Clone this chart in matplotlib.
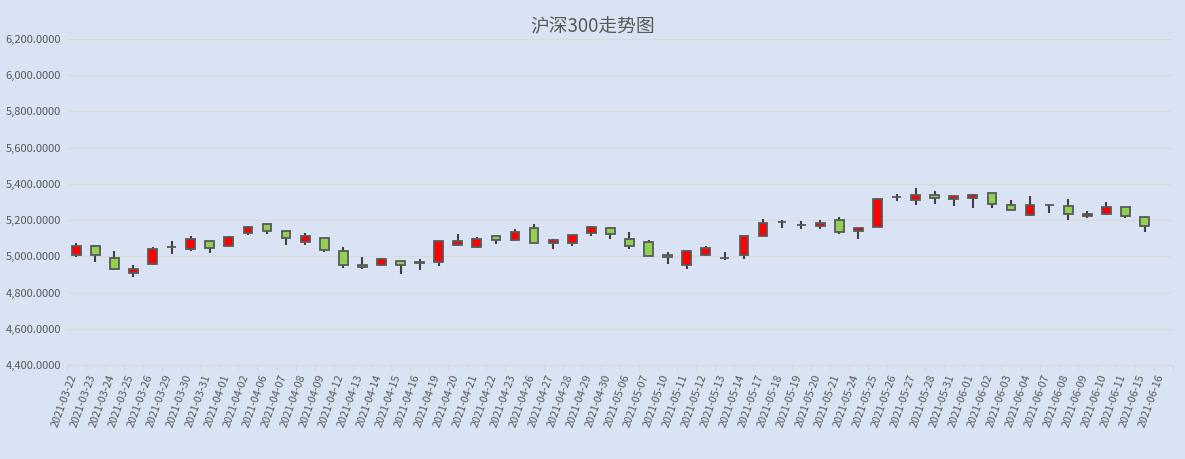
import matplotlib.pyplot as plt, numpy as np
from matplotlib.ticker import FuncFormatter, FixedLocator

plt.rcParams['font.family'] = ['Noto Sans CJK SC', 'DejaVu Sans']

# dados
dates = ['2021-03-22', '2021-03-23', '2021-03-24', '2021-03-25', '2021-03-26', '2021-03-29',
         '2021-03-30', '2021-03-31', '2021-04-01', '2021-04-02', '2021-04-06', '2021-04-07',
         '2021-04-08', '2021-04-09', '2021-04-12', '2021-04-13', '2021-04-14', '2021-04-15',
         '2021-04-16', '2021-04-19', '2021-04-20', '2021-04-21', '2021-04-22', '2021-04-23',
         '2021-04-26', '2021-04-27', '2021-04-28', '2021-04-29', '2021-04-30', '2021-05-06',
         '2021-05-07', '2021-05-10', '2021-05-11', '2021-05-12', '2021-05-13', '2021-05-14',
         '2021-05-17', '2021-05-18', '2021-05-19', '2021-05-20', '2021-05-21', '2021-05-24',
         '2021-05-25', '2021-05-26', '2021-05-27', '2021-05-28', '2021-05-31', '2021-06-01',
         '2021-06-02', '2021-06-03', '2021-06-04', '2021-06-07', '2021-06-08', '2021-06-09',
         '2021-06-10', '2021-06-11', '2021-06-15', '2021-06-16']
nan = np.nan
opens = [5009, 5059, 4989, 4906, 4955, 5049, 5041, 5086, 5058, 5128,
         5178, 5141, 5079, 5103, 5027, 4951, 4951, 4973, 4965, 4968,
         5063, 5054, 5113, 5090, 5157, 5076, 5076, 5130, 5157, 5098,
         5077, 5005, 4954, 5005, 4990, 5009, 5115, 5187, 5171, 5170,
         5203, 5142, 5162, 5325, 5311, 5339, 5317, 5322, 5350, 5283,
         5228, 5283, 5278, 5222, 5233, 5272, 5217, nan]
closes = [5059, 5009, 4930, 4930, 5038, 5051, 5097, 5047, 5108, 5162,
          5139, 5101, 5113, 5036, 4950, 4939, 4984, 4951, 4967, 5086,
          5086, 5097, 5090, 5135, 5076, 5092, 5119, 5162, 5124, 5059,
          5000, 4994, 5027, 5044, 4992, 5110, 5186, 5189, 5173, 5186,
          5137, 5159, 5318, 5327, 5339, 5322, 5333, 5339, 5289, 5256,
          5283, 5281, 5233, 5233, 5272, 5222, 5167, nan]
highs = [5072, 5065, 5027, 4951, 5054, 5086, 5110, 5087, 5115, 5169,
         5179, 5141, 5130, 5103, 5049, 4995, 4989, 4973, 4984, 5087,
         5121, 5108, 5119, 5151, 5178, 5097, 5119, 5169, 5162, 5136,
         5091, 5022, 5035, 5055, 5022, 5115, 5208, 5203, 5195, 5201,
         5219, 5159, 5323, 5345, 5378, 5361, 5333, 5344, 5350, 5311,
         5333, 5283, 5317, 5250, 5300, 5272, 5222, nan]
lows = [4998, 4968, 4924, 4885, 4953, 5011, 5031, 5016, 5058, 5117,
        5122, 5063, 5063, 5022, 4933, 4928, 4946, 4903, 4924, 4946,
        5058, 5047, 5068, 5085, 5076, 5043, 5058, 5113, 5097, 5038,
        5000, 4956, 4929, 5000, 4978, 4984, 5115, 5159, 5153, 5153,
        5126, 5093, 5162, 5306, 5281, 5289, 5278, 5267, 5267, 5256,
        5222, 5239, 5200, 5211, 5228, 5211, 5133, nan]
y_ticks = [4400, 4600, 4800, 5000, 5200, 5400, 5600, 5800, 6000, 6200]

bg = '#DAE3F3'
grid_c = '#D9D9D9'
txt_c = '#595959'

o = np.array(opens, float); c = np.array(closes, float)
h = np.array(highs, float); l = np.array(lows, float)
x = np.arange(len(dates))
ok = ~np.isnan(o)
up = ok & (c >= o)
down = ok & (c < o)

fig = plt.figure(figsize=(11.85, 4.59), dpi=100, facecolor=bg)
ax = fig.add_axes([0.0563, 0.2048, 0.9337, 0.7102], facecolor=bg)

# pavios
ax.vlines(x[ok], l[ok], h[ok], color='#404040', linewidth=1.5, zorder=2)

# corpos
w = 0.46
body_b = np.minimum(o, c)
body_h = np.maximum(np.abs(c - o), 1.0)
ax.bar(x[up], body_h[up], w, bottom=body_b[up], color='#FF0000',
       edgecolor='#595959', linewidth=1.3, zorder=3)
ax.bar(x[down], body_h[down], w, bottom=body_b[down], color='#92D050',
       edgecolor='#595959', linewidth=1.3, zorder=3)

ax.set_xlim(-0.5, len(dates) - 0.5)
ax.set_ylim(4400, 6200)
ax.set_yticks(y_ticks)
ax.yaxis.set_major_formatter(FuncFormatter(lambda v, p: f'{v:,.4f}'))
ax.grid(axis='y', color=grid_c, linewidth=0.9, zorder=0)
ax.set_axisbelow(True)

ax.set_xticks(x + 0.12)
ax.set_xticklabels(dates, rotation=70, ha='right')
ax.xaxis.set_minor_locator(FixedLocator(np.arange(-0.5, len(dates), 1.0)))
ax.tick_params(axis='x', which='major', length=0, pad=6, labelsize=7.8, colors=txt_c)
ax.tick_params(axis='x', which='minor', length=4, color=grid_c, width=0.9)
ax.tick_params(axis='y', length=0, pad=4, labelsize=8, colors=txt_c)

for s in ['top', 'right', 'left']:
    ax.spines[s].set_visible(False)
ax.spines['bottom'].set_color(grid_c)
ax.spines['bottom'].set_linewidth(0.9)

fig.text(0.5, 0.942, '沪深300走势图', ha='center', va='center', fontsize=13.5, color=txt_c)

fig.savefig('out.png', dpi=100, facecolor=bg)
